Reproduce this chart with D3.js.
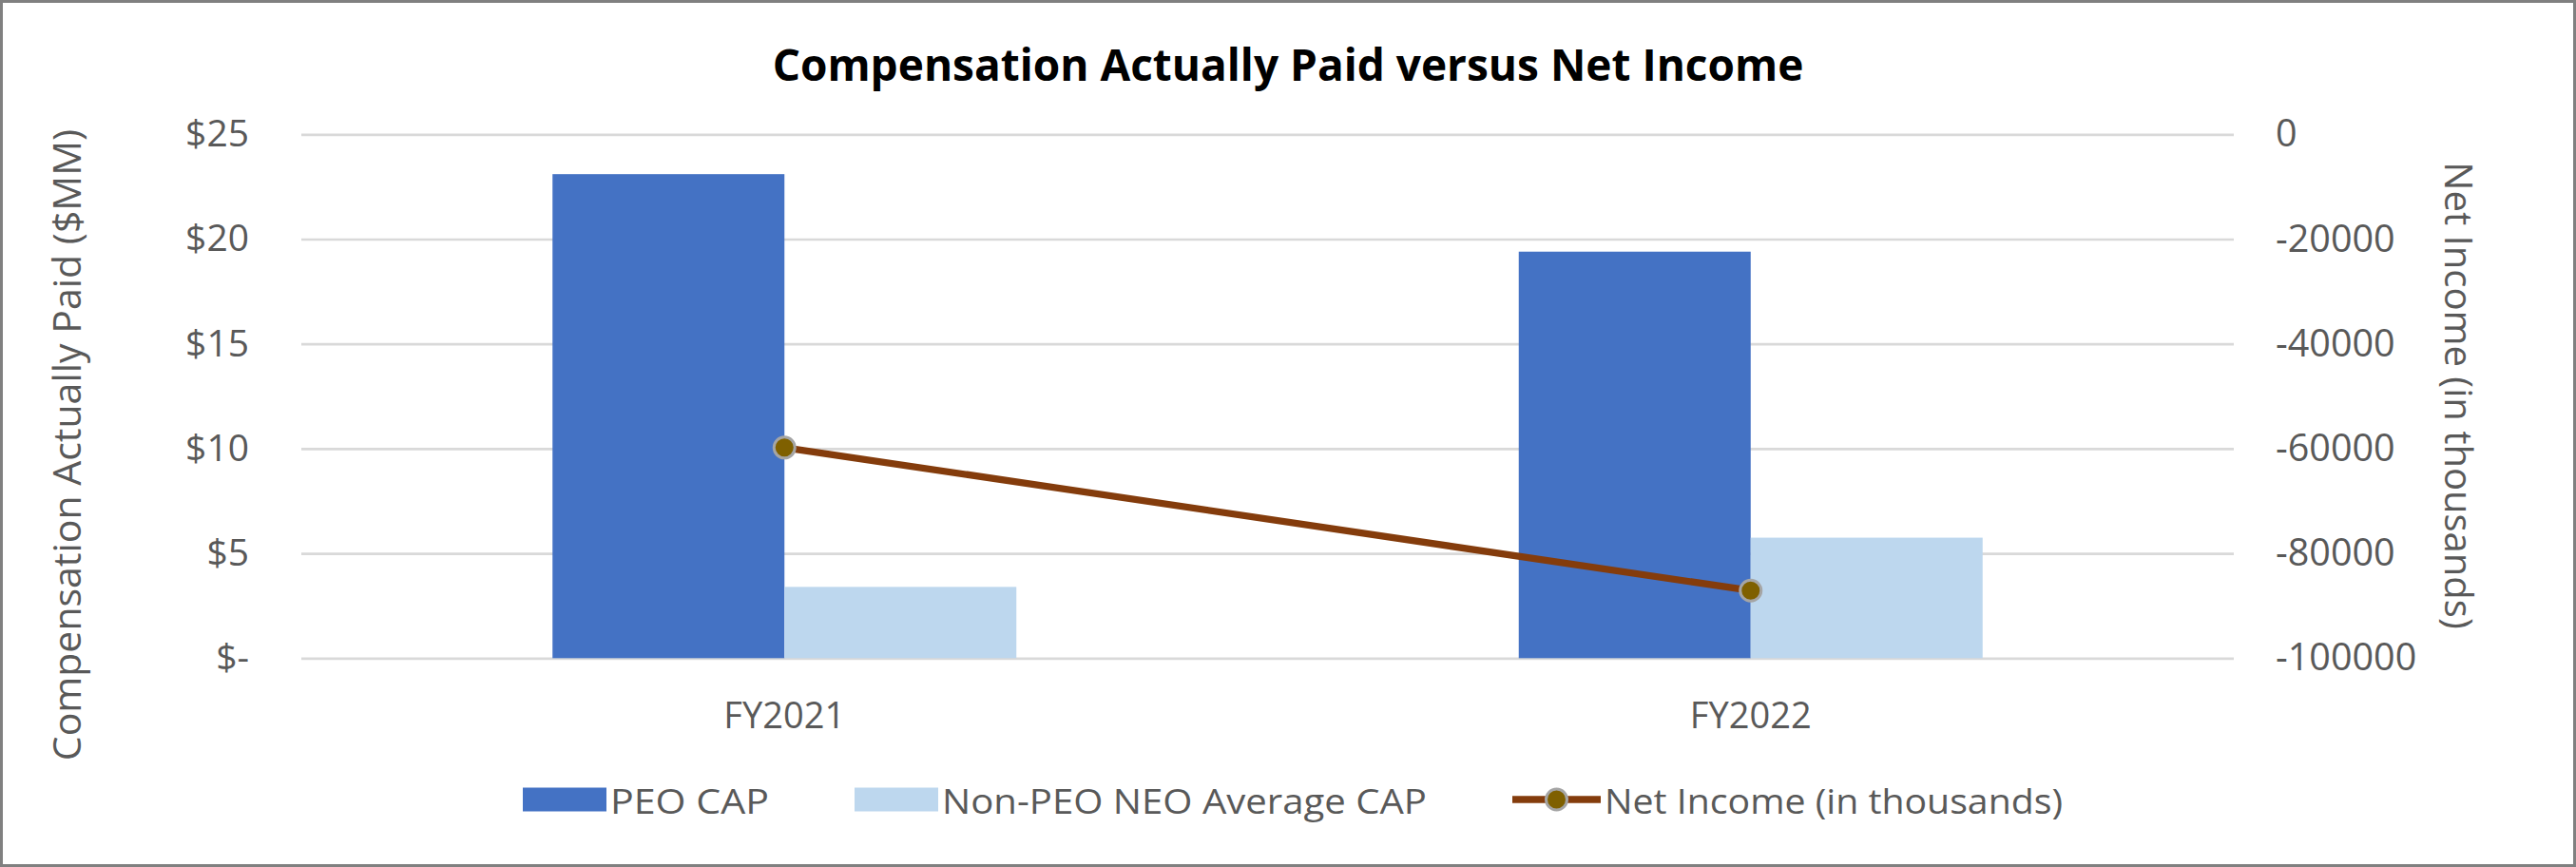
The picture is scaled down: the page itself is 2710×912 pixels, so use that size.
<!DOCTYPE html>
<html>
<head>
<meta charset="utf-8">
<script src="https://cdn.jsdelivr.net/npm/d3@7"></script>
<style>
  html, body { margin: 0; padding: 0; background: #ffffff; }
  svg { display: block; }
  text { font-family: "Open Sans", "Noto Sans", sans-serif; fill: #595959; }
</style>
</head>
<body>
<div id="chart"></div>
<script>
// ---- data ----
const categories = ["FY2021", "FY2022"];
const peoCap = [23.1, 19.4];
const nonPeoCap = [3.4, 5.75];
const netIncome = [-59800, -87100];
const leftTicks = [0, 5, 10, 15, 20, 25];
const leftTickLabels = ["$-", "$5", "$10", "$15", "$20", "$25"];
const rightTicks = [-100000, -80000, -60000, -40000, -20000, 0];
const rightTickLabels = ["-100000", "-80000", "-60000", "-40000", "-20000", "0"];
const seriesNames = ["PEO CAP", "Non-PEO NEO Average CAP", "Net Income (in thousands)"];
const chartTitle = "Compensation Actually Paid versus Net Income";
const leftAxisTitle = "Compensation Actually Paid ($MM)";
const rightAxisTitle = "Net Income (in thousands)";

// ---- layout ----
const W = 2710, H = 912;
const plot = { left: 317, right: 2350, top: 141.3, bottom: 692.3 };
const colors = { peo: "#4472C4", nonPeo: "#BDD7EE", line: "#843C0C", marker: "#7F6000", markerStroke: "#A5A5A5", grid: "#D9D9D9" };
const legendTextWidths = [167, 510, 482];

const svg = d3.select("#chart").append("svg").attr("width", W).attr("height", H);
svg.append("rect").attr("x", 1.5).attr("y", 1.5).attr("width", W - 3).attr("height", H - 3)
  .attr("fill", "#fff").attr("stroke", "#808080").attr("stroke-width", 3);

const x0 = d3.scaleBand().domain(categories).range([plot.left, plot.right]).padding(0);
const x1 = d3.scaleBand().domain(["peo", "nonPeo"]).range([0, x0.bandwidth()]).paddingInner(0).paddingOuter(1.083);
const yL = d3.scaleLinear().domain([0, 25]).range([plot.bottom, plot.top]);
const yR = d3.scaleLinear().domain([-100000, 0]).range([plot.bottom, plot.top]);

// gridlines + left axis
const leftAxis = d3.axisLeft(yL).tickValues(leftTicks)
  .tickFormat((d, i) => leftTickLabels[i])
  .tickSize(-(plot.right - plot.left)).tickPadding(55);
const gL = svg.append("g").attr("transform", `translate(${plot.left},0)`).call(leftAxis);
gL.select(".domain").remove();
gL.selectAll(".tick line").attr("stroke", colors.grid).attr("stroke-width", 2.7);
gL.selectAll(".tick text").attr("font-size", 39).attr("fill", "#595959")
  .style("font-family", '"Open Sans", sans-serif');

// right axis (labels only)
const rightAxis = d3.axisRight(yR).tickValues(rightTicks)
  .tickFormat((d, i) => rightTickLabels[i]).tickSize(0).tickPadding(44);
const gR = svg.append("g").attr("transform", `translate(${plot.right},0)`).call(rightAxis);
gR.select(".domain").remove();
gR.selectAll(".tick text").attr("font-size", 39.5).attr("fill", "#595959")
  .style("font-family", '"Open Sans", sans-serif');

// bars
const groups = svg.append("g").selectAll("g").data(categories).join("g")
  .attr("transform", d => `translate(${x0(d)},0)`);
groups.append("rect")
  .attr("x", x1("peo")).attr("width", x1.bandwidth())
  .attr("y", (d, i) => yL(peoCap[i])).attr("height", (d, i) => yL(0) - yL(peoCap[i]))
  .attr("fill", colors.peo);
groups.append("rect")
  .attr("x", x1("nonPeo")).attr("width", x1.bandwidth())
  .attr("y", (d, i) => yL(nonPeoCap[i])).attr("height", (d, i) => yL(0) - yL(nonPeoCap[i]))
  .attr("fill", colors.nonPeo);

// category labels
const xAxis = d3.axisBottom(x0).tickSize(0).tickPadding(0);
const gX = svg.append("g").attr("transform", `translate(0,${plot.bottom})`).call(xAxis);
gX.select(".domain").remove();
gX.selectAll(".tick text").attr("font-size", 38).attr("fill", "#595959")
  .attr("y", 0).attr("dy", 0).attr("transform", "translate(0,74)")
  .style("font-family", '"Open Sans", sans-serif');

// line
const linePts = categories.map((c, i) => [x0(c) + x0.bandwidth() / 2, yR(netIncome[i])]);
svg.append("path").datum(linePts)
  .attr("d", d3.line())
  .attr("fill", "none").attr("stroke", colors.line).attr("stroke-width", 7.3).attr("stroke-linecap", "round");
svg.append("g").selectAll("circle").data(linePts).join("circle")
  .attr("cx", d => d[0]).attr("cy", d => d[1]).attr("r", 11)
  .attr("fill", colors.marker).attr("stroke", colors.markerStroke).attr("stroke-width", 3);

// title
svg.append("text").attr("x", W / 2).attr("y", 85).attr("text-anchor", "middle")
  .attr("font-size", 46).attr("font-weight", "bold").style("fill", "#000")
  .text(chartTitle);

// axis titles
svg.append("text").attr("transform", `translate(69,468) rotate(-90)`)
  .attr("text-anchor", "middle").attr("dominant-baseline", "central")
  .attr("font-size", 41).text(leftAxisTitle);
svg.append("text").attr("transform", `translate(2587,416) rotate(90)`)
  .attr("text-anchor", "middle").attr("dominant-baseline", "central")
  .attr("font-size", 40).text(rightAxisTitle);

// legend
const legY = 841;
const leg = svg.append("g").attr("transform", "translate(550,0)");
const sw = 88, swH = 25, txtGap = 4, itemGap = 90, lineLen = 93;
const items = [
  { name: seriesNames[0], type: "rect", color: colors.peo },
  { name: seriesNames[1], type: "rect", color: colors.nonPeo },
  { name: seriesNames[2], type: "line", color: colors.line }
];
let cx = 0;
items.forEach((it, i) => {
  const g = leg.append("g").attr("transform", `translate(${cx},0)`);
  let sym;
  if (it.type === "rect") {
    g.append("rect").attr("x", 0).attr("y", legY - swH / 2).attr("width", sw).attr("height", swH).attr("fill", it.color);
    sym = sw;
  } else {
    g.append("line").attr("x1", 0).attr("x2", lineLen).attr("y1", legY).attr("y2", legY)
      .attr("stroke", it.color).attr("stroke-width", 7.3);
    g.append("circle").attr("cx", lineLen / 2).attr("cy", legY).attr("r", 11)
      .attr("fill", colors.marker).attr("stroke", colors.markerStroke).attr("stroke-width", 3);
    sym = lineLen;
  }
  g.append("text").attr("x", sym + txtGap).attr("y", legY).attr("dominant-baseline", "central")
    .attr("font-size", 37).attr("textLength", legendTextWidths[i]).attr("lengthAdjust", "spacingAndGlyphs")
    .text(it.name);
  cx += sym + txtGap + legendTextWidths[i] + itemGap;
});
</script>
</body>
</html>
